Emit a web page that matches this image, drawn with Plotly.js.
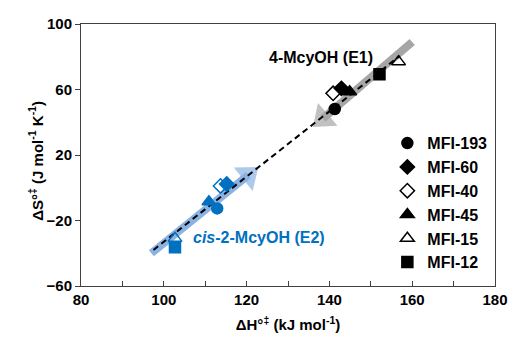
<!DOCTYPE html>
<html>
<head>
<meta charset="utf-8">
<script src="https://cdn.plot.ly/plotly-3.0.1.min.js"></script>
<style>html,body{margin:0;padding:0;background:#fff;}#chart{width:510px;height:343px;}</style>
</head>
<body>
<div id="chart"></div>
<script>
// Series (catalyst samples)
var seriesNames = ['MFI-193', 'MFI-60', 'MFI-40', 'MFI-45', 'MFI-15', 'MFI-12'];
var seriesSymbols = ['circle', 'diamond', 'diamond-open', 'triangle-up', 'triangle-up-open', 'square'];
// 4-McyOH (E1): activation enthalpy (kJ/mol) and entropy (J/mol/K)
var e1H = [141.3, 142.9, 140.9, 144.9, 156.7, 152.1];
var e1S = [48.1, 60.7, 57.7, 58.7, 77.0, 69.3];
// cis-2-McyOH (E2)
var e2H = [112.9, 115.2, 113.7, 110.9, 102.7, 102.7];
var e2S = [-12.6, 2.3, 1.1, -8.5, -30.9, -36.4];
// compensation fit line (dashed)
var fitH = [97.5, 157.0];
var fitS = [-38.0, 80.5];
// arrows (tail -> head centre)
var arrowE1H = [160.0, 138.4];
var arrowE1S = [89.0, 42.2];
var arrowE2H = [97.0, 120.4];
var arrowE2S = [-40.0, 7.7];
// labels
var labelE1 = {h: 138.0, s: 79.5, text: '<b>4-McyOH (E1)</b>'};
var labelE2 = {h: 123.0, s: -30.5, text: '<b><i>cis</i>-2-McyOH (E2)</b>'};
var yTitle = '<b>ΔS°<sup>‡</sup> (J mol<sup>-1</sup> K<sup>-1</sup>)</b>';
var xTitle = '<b>ΔH°<sup>‡</sup> (kJ mol<sup>-1</sup>)</b>';

var FONT = 'Arial, "Liberation Sans", sans-serif';
var BLUE = '#0070C0';

function arrowTrace(xs, ys, color) {
  return {
    x: xs, y: ys, type: 'scatter', mode: 'lines+markers', showlegend: false, hoverinfo: 'skip',
    line: {color: color, width: 8},
    marker: {symbol: ['circle', 'triangle-up'], size: [0, 26], color: color, angleref: 'previous', line: {width: 0}}
  };
}

var traces = [];
traces.push(arrowTrace(arrowE1H, arrowE1S, '#A6A6A6'));
traces.push(arrowTrace(arrowE2H, arrowE2S, '#8AB2E2'));
traces.push({
  x: fitH, y: fitS, type: 'scatter', mode: 'lines', showlegend: false, hoverinfo: 'skip',
  line: {color: '#000000', width: 2, dash: '6px,4px'}
});
for (var i = 0; i < seriesNames.length; i++) {
  traces.push({
    x: [e2H[i]], y: [e2S[i]], type: 'scatter', mode: 'markers', name: seriesNames[i], showlegend: false,
    marker: {symbol: seriesSymbols[i], size: seriesSymbols[i].indexOf('triangle') === 0 ? 12 : 11, color: BLUE, line: {color: BLUE, width: 1.5}}
  });
}
for (var j = 0; j < seriesNames.length; j++) {
  traces.push({
    x: [e1H[j]], y: [e1S[j]], type: 'scatter', mode: 'markers', name: seriesNames[j],
    marker: {symbol: seriesSymbols[j], size: seriesSymbols[j].indexOf('triangle') === 0 ? 12 : 11, color: '#000000', line: {color: '#000000', width: 1.5}}
  });
}

var layout = {
  width: 510, height: 343,
  margin: {l: 81, r: 15, t: 24, b: 57},
  paper_bgcolor: '#ffffff', plot_bgcolor: '#ffffff',
  font: {family: FONT, color: '#000000'},
  showlegend: true,
  legend: {x: 0.74, y: 0.61, xanchor: 'left', yanchor: 'top', bgcolor: 'rgba(0,0,0,0)',
           font: {family: FONT, size: 16, weight: 'bold', color: '#000'}, itemwidth: 30, tracegroupgap: 0},
  xaxis: {
    range: [80, 180], dtick: 20, tick0: 80, ticks: 'inside', ticklen: 5, tickcolor: '#404040',
    minor: {dtick: 10, ticks: 'inside', ticklen: 5, tickcolor: '#404040'},
    showline: true, linecolor: '#404040', linewidth: 1, mirror: true,
    showgrid: false, zeroline: false,
    tickfont: {family: FONT, size: 15, weight: 'bold'},
    title: {text: xTitle, font: {family: FONT, size: 15}, standoff: 12}
  },
  yaxis: {
    range: [-60, 100], dtick: 40, tick0: 20, ticks: 'outside', ticklen: 5, tickcolor: '#404040',
    showline: true, linecolor: '#404040', linewidth: 1, mirror: true,
    showgrid: false, zeroline: false,
    tickfont: {family: FONT, size: 15, weight: 'bold'}
  },
  annotations: [
    {x: labelE1.h, y: labelE1.s, xref: 'x', yref: 'y', text: labelE1.text, showarrow: false,
     font: {family: FONT, size: 16, color: '#000'}},
    {x: labelE2.h, y: labelE2.s, xref: 'x', yref: 'y', text: labelE2.text, showarrow: false,
     font: {family: FONT, size: 16, color: BLUE}},
    {x: -0.11, y: 0.48, xref: 'paper', yref: 'paper', xanchor: 'center', yanchor: 'middle',
     text: yTitle, textangle: -90, showarrow: false, font: {family: FONT, size: 15, color: '#000'}}
  ]
};

Plotly.newPlot('chart', traces, layout, {displayModeBar: false, staticPlot: true});
</script>
</body>
</html>
